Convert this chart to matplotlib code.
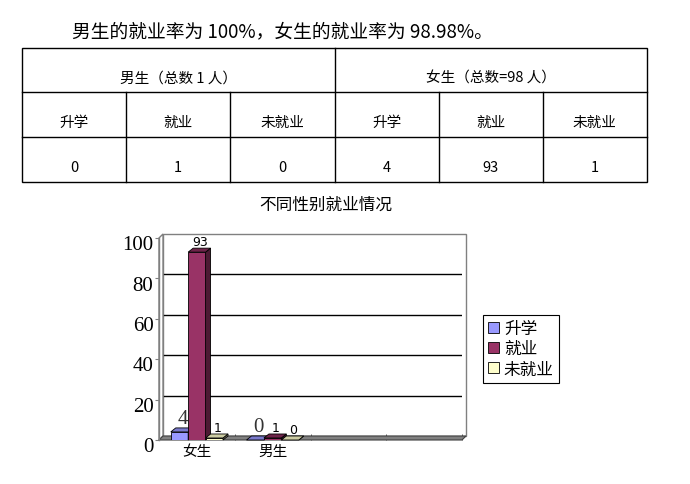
import matplotlib
matplotlib.use("Agg")
import matplotlib.pyplot as plt
from matplotlib.patches import Polygon, Rectangle
from matplotlib.transforms import offset_copy, IdentityTransform, ScaledTranslation

plt.rcParams['font.family'] = ['Noto Sans CJK SC', 'DejaVu Sans']

# ---- data ----
headline = "男生的就业率为 100%，女生的就业率为 98.98%。"
chart_title = "不同性别就业情况"
categories = ["女生", "男生"]
n_slots = 4                      # excel left two empty category slots
series = ["升学", "就业", "未就业"]
shengxue = [4, 0]
jiuye = [93, 1]
weijiuye = [1, 0]
group_heads = ["男生（总数 1 人）", "女生（总数=98 人）"]
male_counts = [0, 1, 0]
female_counts = [4, 93, 1]
yticks = [0, 20, 40, 60, 80, 100]

front_colors = ["#9999ff", "#993366", "#ffffcc"]
top_colors = ["#7a7acc", "#6e2449", "#cccca3"]
side_colors = ["#4d4d80", "#4d1a33", "#808066"]

W, H = 690, 485
fig = plt.figure(figsize=(W / 100, H / 100), dpi=100)

# page layer, pixel coords
bg = fig.add_axes([0, 0, 1, 1])
bg.set_xlim(0, W)
bg.set_ylim(H, 0)
bg.axis("off")

bg.text(72, 32, headline, fontsize=13.5, va="center", ha="left")

# table
tl, tr, tt, tb = 22, 647, 49, 183
row_y = [93, 138]
col_w = (tr - tl) / 6
bg.add_patch(Rectangle((tl, tt), tr - tl, tb - tt, fill=False, lw=1, ec="black"))
for y in row_y:
    bg.plot([tl, tr], [y, y], color="black", lw=1)
for i in range(1, 6):
    x = tl + i * col_w
    y0 = tt if i == 3 else row_y[0]
    bg.plot([x, x], [y0, tb], color="black", lw=1)
for g, head in enumerate(group_heads):
    bg.text(tl + (g * 3 + 1.5) * col_w, 79, head, fontsize=10.5, ha="center", va="center")
for g, counts in enumerate([male_counts, female_counts]):
    for j in range(3):
        cx = tl + (g * 3 + j + 0.5) * col_w
        bg.text(cx, 123, series[j], fontsize=10.5, ha="center", va="center")
        bg.text(cx, 168, str(counts[j]), fontsize=10.5, ha="center", va="center")

bg.text(326, 205, chart_title, fontsize=12, ha="center", va="center")

# ---- chart ----
px_left, px_right, px_zero, px_full = 159, 462, 441, 239
ax = fig.add_axes([px_left / W, 1 - px_zero / H,
                   (px_right - px_left) / W, (px_zero - px_full) / H])
ax.set_xlim(0, n_slots)
ax.set_ylim(0, 100)
ax.patch.set_visible(False)
for s in ax.spines.values():
    s.set_visible(False)

wd = 4  # wall / floor depth in pixels
wall = offset_copy(ax.transData, fig=fig, x=wd, y=wd, units="dots")
ident = IdentityTransform()

ax.add_patch(Rectangle((0, 0), n_slots, 100, transform=wall, fc="white",
                       ec="#808080", lw=1, zorder=0, clip_on=False))
ax.hlines(yticks[1:-1], 0, n_slots, transform=wall, colors="black", lw=1, zorder=1)

(fx0, fy0), (fx1, fy1) = ax.transData.transform([(0, 0), (0, 100)])
ax.add_patch(Polygon([(fx0, fy0), (fx1, fy1), (fx1 + wd, fy1 + wd), (fx0 + wd, fy0 + wd)],
                     transform=ident, fc="white", ec="#808080", lw=1, zorder=1, clip_on=False))
(gx0, gy0), (gx1, gy1) = ax.transData.transform([(0, 0), (n_slots, 0)])
ax.add_patch(Polygon([(gx0, gy0), (gx1, gy1), (gx1 + wd, gy1 + wd), (gx0 + wd, gy0 + wd)],
                     transform=ident, fc="#808080", ec="#404040", lw=0.8, zorder=2, clip_on=False))

dx, dy = 5, 4
width = 0.23
offsets = [-width, 0, width]
label_styles = [
    dict(family="Liberation Serif", fontsize=15, color="#333333"),
    dict(family="DejaVu Sans", fontsize=9, color="black"),
    dict(family="DejaVu Sans", fontsize=9, color="black"),
]
for k, (name, vals) in enumerate(zip(series, [shengxue, jiuye, weijiuye])):
    xs = [i + 0.5 + offsets[k] for i in range(len(categories))]
    z = 3 + 2 * k
    bars = ax.bar(xs, vals, width, color=front_colors[k], edgecolor="black",
                  lw=0.6, label=name, zorder=z)
    for rect, v in zip(bars.patches, vals):
        x0, y0 = rect.get_x(), rect.get_y()
        x1, y1 = x0 + rect.get_width(), y0 + rect.get_height()
        (a0, b0), (a1, b1) = ax.transData.transform([(x0, y0), (x1, y1)])
        top = [(a0, b1), (a1, b1), (a1 + dx, b1 + dy), (a0 + dx, b1 + dy)]
        side = [(a1, b0), (a1, b1), (a1 + dx, b1 + dy), (a1 + dx, b0 + dy)]
        ax.add_patch(Polygon(side, transform=ident, fc=side_colors[k], ec="black",
                             lw=0.6, zorder=z + 1, clip_on=False))
        ax.add_patch(Polygon(top, transform=ident, fc=top_colors[k], ec="black",
                             lw=0.6, zorder=z + 1, clip_on=False))
        ax.annotate(str(v), (x0 + rect.get_width() / 2, y1), xytext=(3, 4),
                    textcoords="offset pixels", ha="center", va="bottom",
                    zorder=10, **label_styles[k])

ax.plot([0, 0], [0, 100], color="#808080", lw=1, clip_on=False, zorder=2)

ax.set_yticks(yticks)
ax.set_yticklabels([str(t) for t in yticks], family="Liberation Serif", fontsize=15)
ax.tick_params(axis="y", length=3, color="#808080", pad=1)
shift = ScaledTranslation(0, -3 / 72, fig.dpi_scale_trans)
for lab in ax.get_yticklabels():
    lab.set_transform(lab.get_transform() + shift)

ax.set_xticks([i + 0.5 for i in range(len(categories))])
ax.set_xticklabels(categories, fontsize=10.5)
ax.set_xticks(range(1, n_slots + 1), minor=True)
ax.tick_params(axis="x", which="major", length=0, pad=3)
ax.tick_params(axis="x", which="minor", length=4, direction="in", color="#404040")

leg = ax.legend(loc="upper left", bbox_to_anchor=(483 / W, 1 - 316 / H),
                bbox_transform=fig.transFigure, fancybox=False, edgecolor="black",
                framealpha=1, fontsize=12, handlelength=0.65, handleheight=0.65,
                handletextpad=0.3, borderpad=0.3, labelspacing=0.2, borderaxespad=0)
leg.get_frame().set_linewidth(0.8)

fig.savefig("out.png", dpi=100)
